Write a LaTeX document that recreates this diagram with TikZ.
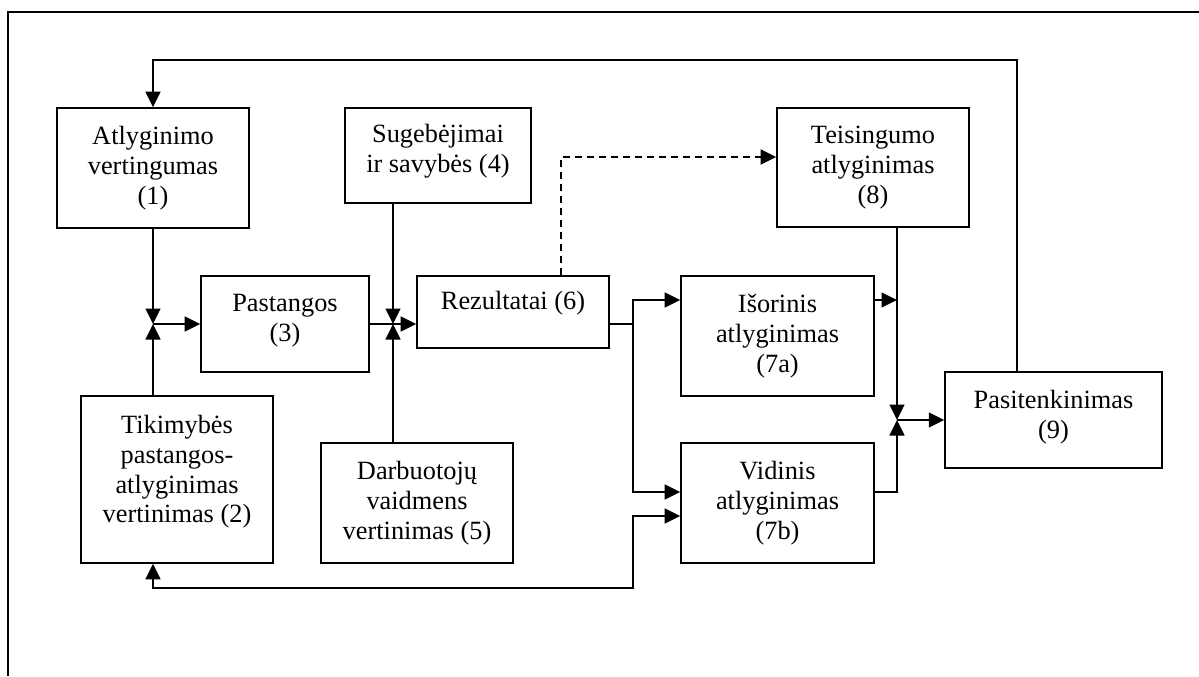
\documentclass[tikz,border=0pt]{standalone}
\usepackage{fontspec}
\setmainfont{Liberation Serif}
\usetikzlibrary{arrows.meta}

\begin{document}
\begin{tikzpicture}[x = 0.02cm, y = -0.02cm, line width = 0.9pt,
    box/.style = {draw, align = center, inner sep = 0pt, font = \fontsize{15}{17}\selectfont},
    arr/.style = {-{Triangle[length = 3.1mm, width = 3mm]}}]
      \useasboundingbox (0,0) rectangle (1199,676);
      \draw (8,676) -- (8,12) -- (1199,12);

      % boxes
      \node [box, minimum width = 3.84cm, minimum height = 2.4cm] (n1) at (153,168) {Atlyginimo\\vertingumas\\(1)};
      \node [box, minimum width = 3.84cm, minimum height = 3.34cm, text depth = 0.42cm] (n2) at (177,479.5) {Tikimybės\\pastangos-\\atlyginimas\\vertinimas (2)};
      \node [box, minimum width = 3.36cm, minimum height = 1.92cm, text depth = 0.24cm] (n3) at (285,324) {Pastangos\\(3)};
      \node [box, minimum width = 3.72cm, minimum height = 1.9cm, text depth = 0.3cm] (n4) at (438,155.5) {Sugebėjimai\\ir savybės (4)};
      \node [box, minimum width = 3.84cm, minimum height = 2.4cm] (n5) at (417,503) {Darbuotojų\\vaidmens\\vertinimas (5)};
      \node [box, minimum width = 3.84cm, minimum height = 1.44cm, text depth = 0.45cm] (n6) at (513,312) {Rezultatai (6)};
      \node [box, minimum width = 3.86cm, minimum height = 2.4cm] (n7a) at (777.5,336) {Išorinis\\atlyginimas\\(7a)};
      \node [box, minimum width = 3.86cm, minimum height = 2.4cm] (n7b) at (777.5,503) {Vidinis\\atlyginimas\\(7b)};
      \node [box, minimum width = 3.84cm, minimum height = 2.38cm] (n8) at (873,167.5) {Teisingumo\\atlyginimas\\(8)};
      \node [box, minimum width = 4.34cm, minimum height = 1.92cm, text depth = 0.24cm] (n9) at (1053.5,420) {Pasitenkinimas\\(9)};

      % junctions and bends
      \coordinate (j1) at (153,324);
      \coordinate (j2) at (393,324);
      \coordinate (j3) at (897,420);
      \coordinate (s) at (633,324);
      \coordinate (a7) at (633,300);
      \coordinate (b7) at (633,492);
      \coordinate (d) at (561,157);
      \coordinate (t) at (1017,60);
      \coordinate (f) at (633,588);
      \coordinate (g) at (633,516);

      \draw [arr] (n1) -- (j1);
      \draw [arr] (j1 |- n2.north) -- (j1);
      \draw [arr] (j1) -- (n3.west);
      \draw (n3.east) -- (j2);
      \draw [arr] (j2 |- n4.south) -- (j2);
      \draw [arr] (j2 |- n5.north) -- (j2);
      \draw [arr] (j2) -- (j2 -| n6.west);
      \draw (j2 -| n6.east) -- (s);
      \draw [arr] (s) -- (a7) -- (a7 -| n7a.west);
      \draw [arr] (s) -- (b7) -- (b7 -| n7b.west);
      \draw [arr, dash pattern = on 1.4mm off 1mm] (d |- n6.north) -- (d) -- (d -| n8.west);
      \draw [arr] (j3 |- n8.south) -- (j3);
      \draw [arr] (n7a.east |- a7) -- (j3 |- a7);
      \draw [arr] (n7b.east |- b7) -- (j3 |- b7) -- (j3);
      \draw [arr] (j3) -- (n9.west);
      \draw [arr] (t |- n9.north) -- (t) -| (n1.north);
      \draw [{Triangle[length = 3.1mm, width = 3mm]}-{Triangle[length = 3.1mm, width = 3mm]}] (j1 |- n2.south) -- (j1 |- f) -- (f) -- (g) -- (g -| n7b.west);
    \end{tikzpicture}
\end{document}
